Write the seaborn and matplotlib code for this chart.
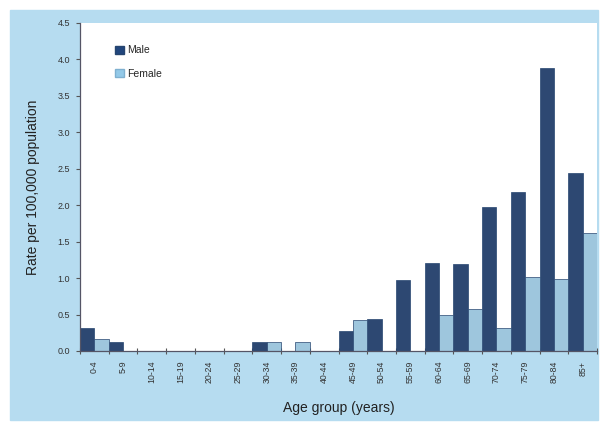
import matplotlib
matplotlib.use("Agg")
import matplotlib.pyplot as plt
import matplotlib.patches as mpatches
import seaborn as sns
import pandas as pd
import numpy as np

# Values
age_groups = ['0-4', '5-9', '10-14', '15-19', '20-24', '25-29', '30-34', '35-39',
              '40-44', '45-49', '50-54', '55-59', '60-64', '65-69', '70-74',
              '75-79', '80-84', '85+']
male = [0.31, 0.13, 0, 0, 0, 0, 0.12, 0, 0, 0.28, 0.44, 0.98, 1.21, 1.19,
        1.97, 2.18, 3.88, 2.44]
female = [0.16, 0, 0, 0, 0, 0, 0.12, 0.12, 0, 0.42, 0, 0, 0.50, 0.58,
          0.31, 1.01, 0.99, 1.62]
y_ticks = [0.0, 0.5, 1.0, 1.5, 2.0, 2.5, 3.0, 3.5, 4.0, 4.5]

male_color = '#21467d'
female_color = '#93c9e8'
bg_color = '#b6dcf0'

df = pd.DataFrame({
    'Age group': age_groups * 2,
    'Rate': male + female,
    'Sex': ['Male'] * len(age_groups) + ['Female'] * len(age_groups),
})

sns.set_theme(style="white")
plt.rcParams['font.family'] = ['Liberation Sans', 'DejaVu Sans']

fig = plt.figure(figsize=(6, 4.26), dpi=100)
# light blue chart-area background, kept behind the axes
fig.patches.append(mpatches.Rectangle((10 / 600, 6 / 426), 588 / 600, 410 / 426,
                                      transform=fig.transFigure, color=bg_color,
                                      zorder=-10))
ax = fig.add_axes([80 / 600, 1 - 351 / 426, 517 / 600, 328 / 426])
ax.set_facecolor('white')

sns.barplot(data=df, x='Age group', y='Rate', hue='Sex', order=age_groups,
            hue_order=['Male', 'Female'], palette=[male_color, female_color],
            width=1.0, gap=0, dodge=True, ax=ax, legend=False,
            edgecolor='#26456f', linewidth=0.5)

ax.set_xlim(-0.5, len(age_groups) - 0.5)
ax.set_ylim(0, 4.5)
ax.set_yticks(y_ticks)
ax.set_yticklabels([f'{v:.1f}' for v in y_ticks], fontsize=6.5, color='#333333')
ax.set_xticks(range(len(age_groups)))
ax.set_xticklabels(age_groups, rotation=90, fontsize=6.3, color='#333333')
ax.set_xticks(np.arange(-0.5, len(age_groups)), minor=True)
ax.tick_params(axis='x', which='major', length=0, pad=7)
ax.tick_params(axis='x', which='minor', length=4, width=0.8, color='#555555',
               direction='inout', bottom=True)
ax.tick_params(axis='y', length=3, width=0.8, color='#555555', direction='out',
               left=True, pad=4)

for s in ['top', 'right']:
    ax.spines[s].set_visible(False)
for s in ['left', 'bottom']:
    ax.spines[s].set_color('#555566')
    ax.spines[s].set_linewidth(0.9)

ax.set_xlabel('Age group (years)', fontsize=10, color='#222222', labelpad=13)
ax.set_ylabel('Rate per 100,000 population', fontsize=10, color='#222222',
              labelpad=13)

handles = [mpatches.Patch(facecolor=male_color, edgecolor='#26456f', label='Male'),
           mpatches.Patch(facecolor=female_color, edgecolor='#7fb0d0', label='Female')]
ax.legend(handles=handles, loc='upper left', bbox_to_anchor=(0.05, 0.96),
          frameon=False, fontsize=7.5, handlelength=0.8, handleheight=0.8,
          handletextpad=0.3, labelspacing=1.3)

fig.savefig('out.png', dpi=100)
